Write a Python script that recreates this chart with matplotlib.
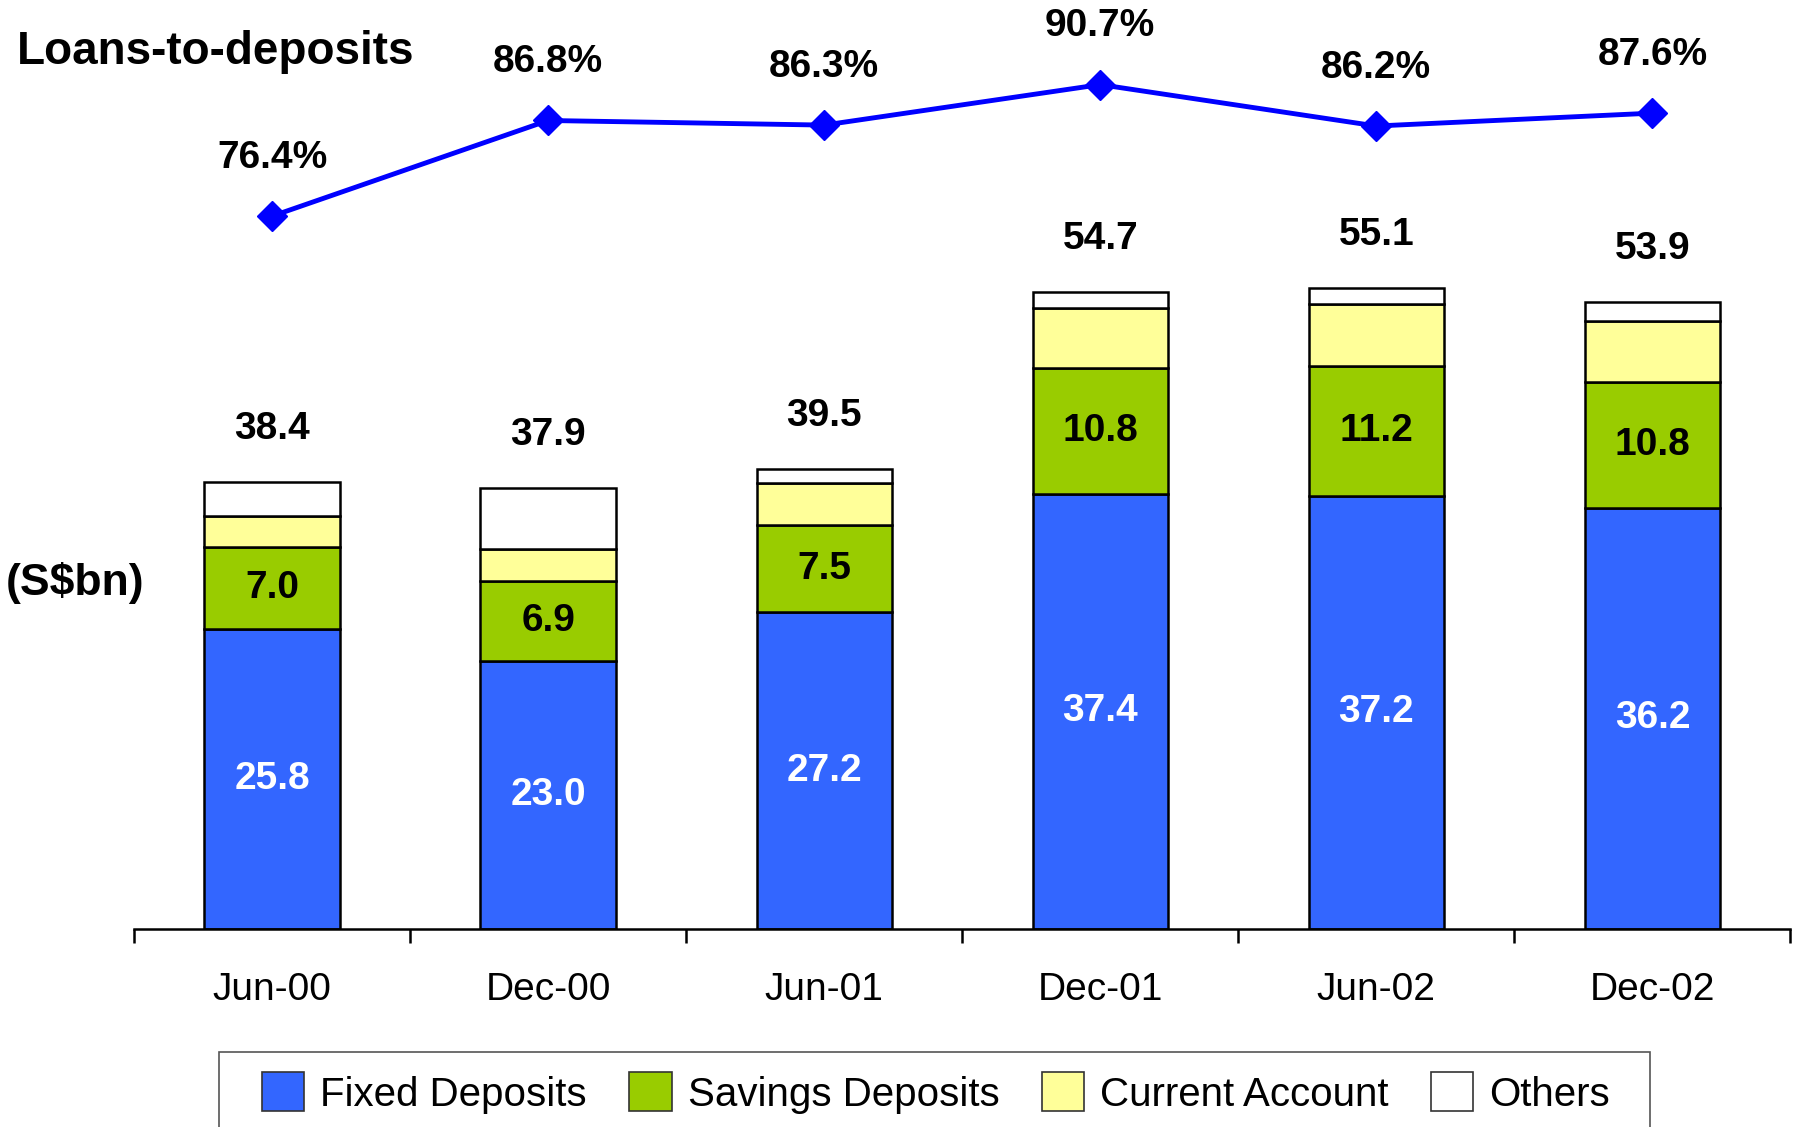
import numpy as np
import matplotlib; matplotlib.use('Agg')
import matplotlib.pyplot as plt
from matplotlib.patches import Patch, Rectangle

periods = ['Jun-00', 'Dec-00', 'Jun-01', 'Dec-01', 'Jun-02', 'Dec-02']
fixed = [25.8, 23.0, 27.2, 37.4, 37.2, 36.2]
savings = [7.0, 6.9, 7.5, 10.8, 11.2, 10.8]
current = [2.65, 2.7, 3.6, 5.1, 5.3, 5.2]
totals = [38.4, 37.9, 39.5, 54.7, 55.1, 53.9]
others = [t - f - s - c for t, f, s, c in zip(totals, fixed, savings, current)]
ldr = [76.4, 86.8, 86.3, 90.7, 86.2, 87.6]

plt.rcParams['font.family'] = ['Liberation Sans Narrow', 'Liberation Sans', 'DejaVu Sans']

C_FIX = '#3366FF'; C_SAV = '#99CC00'; C_CUR = '#FFFF99'; C_OTH = '#FFFFFF'
fs = 28

fig = plt.figure(figsize=(17.94, 11.27), dpi=100)
ax = fig.add_axes([0.0747, 0.1757, 0.9233, 0.8243])
x = np.arange(len(periods))
w = 0.49
ekw = dict(edgecolor='black', linewidth=1.8, width=w)
b0 = np.zeros(len(x))
ax.bar(x, fixed, bottom=b0, color=C_FIX, **ekw); b0 += fixed
ax.bar(x, savings, bottom=b0, color=C_SAV, **ekw); b0 += savings
ax.bar(x, current, bottom=b0, color=C_CUR, **ekw); b0 += current
ax.bar(x, others, bottom=b0, color=C_OTH, **ekw); b0 += others

for i in range(len(x)):
    ax.text(x[i], fixed[i] / 2, f'{fixed[i]:.1f}', ha='center', va='center',
            color='white', fontsize=fs, fontweight='bold')
    ax.text(x[i], fixed[i] + savings[i] / 2, f'{savings[i]:.1f}', ha='center', va='center',
            color='black', fontsize=fs, fontweight='bold')
    ax.annotate(f'{totals[i]:.1f}', (x[i], totals[i]), xytext=(0, 38), textcoords='offset points',
                ha='center', va='center', fontsize=fs, fontweight='bold')

ax.set_xlim(-0.5, 5.5)
ax.set_ylim(0, 79.8)
for s in ['top', 'right', 'left']:
    ax.spines[s].set_visible(False)
ax.spines['bottom'].set_linewidth(1.8)
ax.set_yticks([])
ax.set_xticks(x)
ax.set_xticklabels(periods, fontsize=fs)
ax.tick_params(axis='x', which='major', length=0, pad=31)
ax.set_xticks(np.arange(-0.5, 6, 1), minor=True)
ax.tick_params(axis='x', which='minor', length=10, width=1.8, direction='out')

ax2 = ax.twinx()
ax2.set_ylim(-1.1, 99.9)
ax2.axis('off')
ax2.plot(x, ldr, color='#0000FF', lw=3.5, marker='D', markersize=15)
for i in range(len(x)):
    ax2.annotate(f'{ldr[i]:.1f}%', (x[i], ldr[i]), xytext=(0, 42), textcoords='offset points',
                 ha='center', va='center', fontsize=fs, fontweight='bold')

fig.text(17 / 1794, 1 - 52 / 1127, 'Loans-to-deposits', fontsize=33, fontweight='bold',
         ha='left', va='center')
fig.text(6 / 1794, 1 - 583 / 1127, '(S$bn)', fontsize=32, fontweight='bold',
         ha='left', va='center')

# legend frame runs off the bottom edge, as in the original slide
fig.patches.append(Rectangle((219 / 1794, -0.05), (1650 - 219) / 1794, 0.05 + 1 - 1052 / 1127,
                             transform=fig.transFigure, facecolor='none',
                             edgecolor='#555555', linewidth=1.2))
handles = [Patch(facecolor=c, edgecolor='#333333', linewidth=1.2) for c in [C_FIX, C_SAV, C_CUR, C_OTH]]
fig.legend(handles, ['Fixed Deposits', 'Savings Deposits', 'Current Account', 'Others'],
           loc='center left', bbox_to_anchor=(262 / 1794, 1 - 1093 / 1127), ncol=4,
           fontsize=29, frameon=False,
           handlelength=1.05, handleheight=1.1, handletextpad=0.4, columnspacing=1.05,
           borderpad=0, borderaxespad=0)

fig.savefig('out.png', dpi=100)
